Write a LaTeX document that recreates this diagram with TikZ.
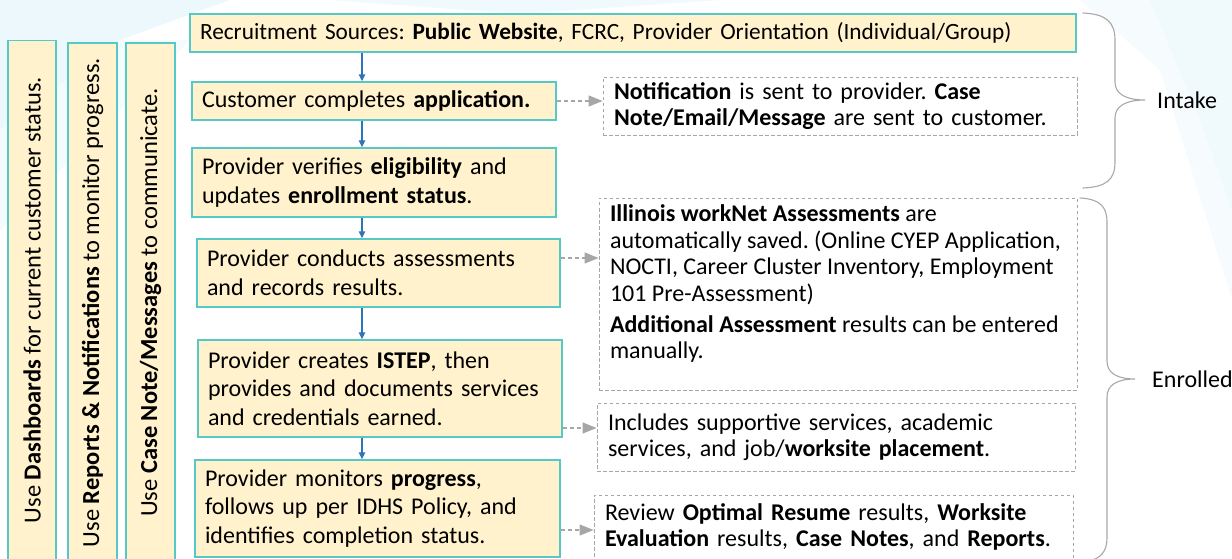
\documentclass[tikz,border=0pt]{standalone}
\usepackage{fontspec}
\setmainfont{Carlito}
\frenchspacing
\usetikzlibrary{arrows.meta}

\definecolor{boxfill}{HTML}{FFF2CC}
\definecolor{boxline}{HTML}{55C8C8}
\definecolor{flowblue}{HTML}{2E75B6}
\definecolor{noteline}{HTML}{A6A6A6}
\definecolor{bracegray}{HTML}{A8A8A8}
\definecolor{wash}{HTML}{DDF3F9}

\begin{document}
\begin{tikzpicture}[x=1pt,y=-1pt,
  stepbox/.style={draw=boxline, line width=1.4pt, fill=boxfill,
    inner xsep=10pt, inner ysep=0pt, align=left,
    font=\fontsize{24}{28.5}\selectfont},
  sidebox/.style={draw=boxline, line width=1.4pt, fill=boxfill,
    inner sep=0pt, rotate=90, minimum width=519pt, minimum height=48pt,
    font=\fontsize{24.5}{28.5}\selectfont},
  notebox/.style={draw=noteline, line width=0.9pt, dash pattern=on 3.5pt off 2.5pt,
    inner xsep=11pt, inner ysep=0pt, align=left,
    font=\fontsize{24}{26.4}\selectfont},
  flow/.style={draw=flowblue, line width=1.3pt, -{Triangle[length=7pt,width=6.5pt]}},
  notearrow/.style={draw=noteline, line width=1.1pt, dash pattern=on 4pt off 3pt,
    -{Triangle[length=14pt,width=11pt]}},
  bracket/.style={draw=bracegray, line width=1.1pt, line cap=round},
  grouplabel/.style={anchor=west, inner sep=0pt, font=\fontsize{24}{28}\selectfont}
]
\useasboundingbox (0,0) rectangle (1232,559);
\clip (0,0) rectangle (1232,559);

% soft background wash
\fill[wash, opacity=0.55] (0,0) -- (230,0) -- (120,40) -- (0,130) -- cycle;
\fill[wash, opacity=0.35] (0,130) -- (120,40) -- (190,40) -- (0,230) -- cycle;
\fill[wash, opacity=0.45] (330,0) -- (720,0) -- (520,14) -- cycle;
\fill[wash, opacity=0.45] (1150,0) -- (1232,0) -- (1232,210) -- (1200,120) -- cycle;
\fill[wash, opacity=0.25] (1080,0) -- (1150,0) -- (1200,120) -- (1232,210) -- (1232,300) -- (1160,70) -- cycle;

% tool columns on the left
\node[sidebox] (cA) at (32,300) {Use \textbf{Dashboards} for current customer status.};
\node[sidebox, minimum height=49pt] (cB) at (92.5,302.5) {Use \textbf{Reports \& Notifications} to monitor progress.};
\node[sidebox, minimum height=49pt] (cC) at (150.5,302.5) {Use \textbf{Case Note/Messages} to communicate.};

% process steps
\node[stepbox, minimum width=886pt, text width=866pt, minimum height=38pt,
      font=\fontsize{23.3}{28}\selectfont] (b1) at (633,33)
  {Recruitment Sources: \textbf{Public Website}, FCRC, Provider Orientation (Individual/Group)};
\node[stepbox, minimum width=364pt, text width=344pt, minimum height=38pt] (b2) at (374,101)
  {Customer completes \textbf{application.}};
\node[stepbox, minimum width=364pt, text width=344pt, minimum height=69pt] (b3) at (374,182.5)
  {Provider verifies \textbf{eligibility} and\\updates \textbf{enrollment status}.};
\node[stepbox, minimum width=363pt, text width=343pt, minimum height=68pt] (b4) at (378.5,273)
  {Provider conducts assessments\\and records results.};
\node[stepbox, minimum width=364pt, text width=344pt, minimum height=97pt] (b5) at (380,388.5)
  {Provider creates \textbf{ISTEP}, then\\provides and documents services\\and credentials earned.};
\node[stepbox, minimum width=365pt, text width=345pt, minimum height=97pt] (b6) at (377.5,508.5)
  {Provider monitors \textbf{progress},\\follows up per IDHS Policy, and\\identifies completion status.};

% system notes
\node[notebox, minimum width=474pt, text width=452pt, minimum height=58pt] (d1) at (840,106)
  {\textbf{Notification} is sent to provider. \textbf{Case}\\\textbf{Note/Email/Message} are sent to customer.};
\node[notebox, minimum width=478pt, minimum height=192pt] (d2) at (838,294)
  {\begin{minipage}[c][178pt][t]{456pt}\raggedright
   \textbf{Illinois workNet Assessments} are\\automatically saved. (Online CYEP Application,\\NOCTI, Career Cluster Inventory, Employment\\101 Pre-Assessment)\\[5pt]
   \textbf{Additional Assessment} results can be entered\\manually.
   \end{minipage}};
\node[notebox, minimum width=478pt, text width=456pt, minimum height=68pt] (d3) at (836,437)
  {Includes supportive services, academic\\services, and job/\textbf{worksite placement}.};
\node[notebox, minimum width=479pt, text width=457pt, minimum height=64pt] (d4) at (833.5,527)
  {Review \textbf{Optimal Resume} results, \textbf{Worksite}\\\textbf{Evaluation} results, \textbf{Case Notes}, and \textbf{Reports}.};

% main flow
\coordinate (ax) at (362,0);
\draw[flow] (b1.south -| ax) -- (b2.north -| ax);
\draw[flow] (b2.south -| ax) -- (b3.north -| ax);
\draw[flow] (b3.south -| ax) -- (b4.north -| ax);
\draw[flow] (b4.south -| ax) -- (b5.north -| ax);
\draw[flow] (b5.south -| ax) -- (b6.north -| ax);

% links to system notes
\coordinate (y4) at (0,258);
\coordinate (y5) at (0,428);
\coordinate (y6) at (0,530);
\draw[notearrow] (b2.east) -- (d1.west |- b2.east);
\draw[notearrow] (b4.east |- y4) -- (d2.west |- y4);
\draw[notearrow] (b5.east |- y5) -- (d3.west |- y5);
\draw[notearrow] (b6.east |- y6) -- (d4.west |- y6);

% phase brackets
\draw[bracket] (1083,13) .. controls (1106,14) and (1115,22) .. (1115,40)
  -- (1115,82) .. controls (1115,94) and (1126,100) .. (1145,100)
  .. controls (1126,100) and (1115,106) .. (1115,118)
  -- (1115,162) .. controls (1115,180) and (1106,187) .. (1083,188);
\node[grouplabel] (intake) at (1157,100) {Intake};

\draw[bracket] (1080,198) .. controls (1099,199) and (1107,206) .. (1107,222)
  -- (1107,361) .. controls (1107,373) and (1117,379) .. (1135,379)
  .. controls (1117,379) and (1107,385) .. (1107,397)
  -- (1107,538) .. controls (1107,552) and (1100,559) .. (1088,561);
\node[grouplabel] (enrolled) at (1152,379) {Enrolled};
\end{tikzpicture}
\end{document}
